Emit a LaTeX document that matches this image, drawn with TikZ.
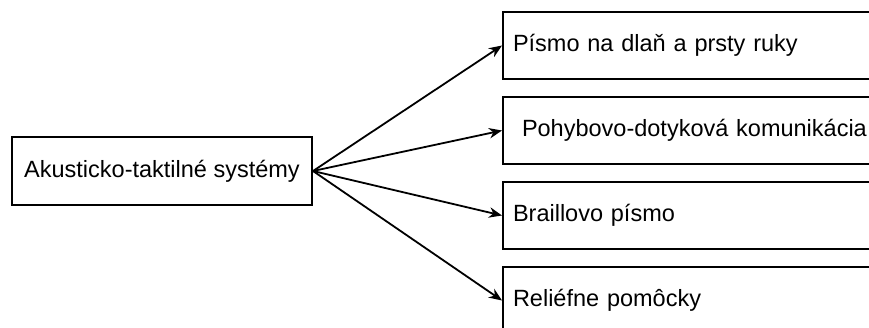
\documentclass[tikz,border=0pt]{standalone}
\usepackage{fontspec}
\setmainfont{Liberation Sans}
\usepackage{tikz}
\usetikzlibrary{arrows.meta,positioning}

\begin{document}
\begin{tikzpicture}[x=1pt, y=1pt, >={Stealth[length=13pt,width=10.5pt]},
    every node/.style={font=\fontsize{23.5}{28}\selectfont},
    system/.style={draw, line width=2pt, minimum width=300pt,
        minimum height=68pt, inner xsep=10pt, align=center},
    branch/.style={draw, line width=2pt, text width=360pt,
        minimum height=67.5pt, inner xsep=10pt, align=left},
    link/.style={->, line width=1.8pt}]
\useasboundingbox (0,0) rectangle (869,-327);

\node[system] (aks) at (162,-171) {Akusticko-taktilné systémy};

% vetvy vpravo, orezané okrajom obrázka
\node[branch, anchor=west] (dlan) at (502,-45.5)
    {Písmo na dlaň a prsty ruky};
\node[branch, below=15.5pt of dlan] (pohyb)
    {\hspace*{9pt}Pohybovo-dotyková komunikácia};
\node[branch, below=15.5pt of pohyb] (braille)
    {Braillovo písmo};
\node[branch, below=15.5pt of braille] (relief)
    {Reliéfne pomôcky};

\draw[link] (aks.east) -- (dlan.west);
\draw[link] (aks.east) -- (pohyb.west);
\draw[link] (aks.east) -- (braille.west);
\draw[link] (aks.east) -- (relief.west);
\end{tikzpicture}
\end{document}
